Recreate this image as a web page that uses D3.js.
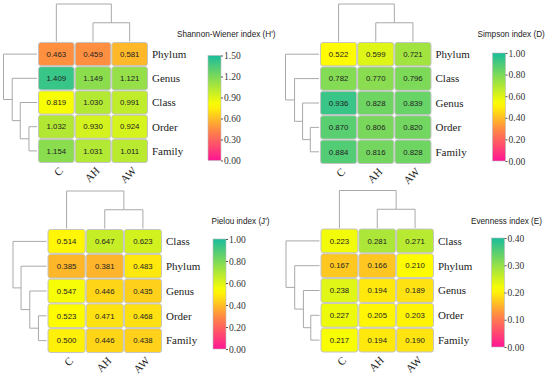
<!DOCTYPE html>
<html>
<head>
<meta charset="utf-8">
<script src="https://cdn.jsdelivr.net/npm/d3@7"></script>
<style>
  body { margin: 0; background: #fff; }
</style>
</head>
<body>
<div id="chart"></div>
<script>
// sample groups (columns)
const groups = ["C", "AH", "AW"];

// Shannon-Wiener
const shannonRows = ["Phylum", "Genus", "Class", "Order", "Family"];
const shannonValues = [
  [0.463, 0.459, 0.581],
  [1.409, 1.149, 1.121],
  [0.819, 1.030, 0.991],
  [1.032, 0.930, 0.924],
  [1.154, 1.031, 1.011]
];
const shannonTicks = [0, 0.3, 0.6, 0.9, 1.2, 1.5];
const shannonRowHeights = [1, 0.74, 0.5, 0.24];
const shannonColHeights = [1, 0.5];

// Simpson
const simpsonRows = ["Phylum", "Class", "Genus", "Order", "Family"];
const simpsonValues = [
  [0.522, 0.599, 0.721],
  [0.782, 0.770, 0.796],
  [0.936, 0.828, 0.839],
  [0.870, 0.806, 0.820],
  [0.884, 0.816, 0.828]
];
const simpsonTicks = [0, 0.2, 0.4, 0.6, 0.8, 1.0];
const simpsonRowHeights = [1, 0.73, 0.49, 0.26];
const simpsonColHeights = [1, 0.5];

// Pielou
const pielouRows = ["Class", "Phylum", "Genus", "Order", "Family"];
const pielouValues = [
  [0.514, 0.647, 0.623],
  [0.385, 0.381, 0.483],
  [0.547, 0.446, 0.435],
  [0.523, 0.471, 0.468],
  [0.500, 0.446, 0.438]
];
const pielouTicks = [0, 0.2, 0.4, 0.6, 0.8, 1.0];
const pielouRowHeights = [1, 0.76, 0.5, 0.24];
const pielouColHeights = [1, 0.5];

// Evenness
const evennessRows = ["Class", "Phylum", "Genus", "Order", "Family"];
const evennessValues = [
  [0.223, 0.281, 0.271],
  [0.167, 0.166, 0.210],
  [0.238, 0.194, 0.189],
  [0.227, 0.205, 0.203],
  [0.217, 0.194, 0.190]
];
const evennessTicks = [0, 0.1, 0.2, 0.3, 0.4];
const evennessRowHeights = [1, 0.74, 0.48, 0.26];
const evennessColHeights = [1, 0.5];

const width = 550;
const height = 378;

const panels = [
  { title: "Shannon-Wiener index (H')", rows: shannonRows, values: shannonValues, ticks: shannonTicks,
    rowH: shannonRowHeights, colH: shannonColHeights,
    x: 38, y: 42, w: 110, h: 121, lx: 208, ltop: 55.5, lbot: 160.5, tx: 177 },
  { title: "Simpson index (D)", rows: simpsonRows, values: simpsonValues, ticks: simpsonTicks,
    rowH: simpsonRowHeights, colH: simpsonColHeights,
    x: 320, y: 42, w: 111.5, h: 122, lx: 492.5, ltop: 53, lbot: 161, tx: 477.5 },
  { title: "Pielou index (J')", rows: pielouRows, values: pielouValues, ticks: pielouTicks,
    rowH: pielouRowHeights, colH: pielouColHeights,
    x: 47.5, y: 229, w: 114.5, h: 124, lx: 213, ltop: 239, lbot: 349, tx: 211.5 },
  { title: "Evenness index (E)", rows: evennessRows, values: evennessValues, ticks: evennessTicks,
    rowH: evennessRowHeights, colH: evennessColHeights,
    x: 320.5, y: 228.5, w: 113.5, h: 124, lx: 491.5, ltop: 238, lbot: 347, tx: 471 }
];

const svg = d3.select("#chart").append("svg")
  .attr("width", width)
  .attr("height", height)
  .style("display", "block")
  .style("background", "#fff");

const defs = svg.append("defs");
const lineColor = "#a9a9a9";

// tree shape shared by all panels: (r0, (r1, (r2, (r3, r4))))
function rowTree(hs) {
  return { h: hs[0], c: [0, { h: hs[1], c: [1, { h: hs[2], c: [2, { h: hs[3], c: [3, 4] }] }] }] };
}
function colTree(hs) {
  return { h: hs[0], c: [0, { h: hs[1], c: [1, 2] }] };
}

panels.forEach((p, pi) => {
  const maxV = p.ticks[p.ticks.length - 1];
  const color = d3.scaleLinear()
    .domain([0, 0.3 * maxV, 0.53 * maxV, maxV])
    .range(["#ff1493", "#ff8c42", "#ffff00", "#1abc9c"])
    .clamp(true);

  const xBand = d3.scaleBand().domain(groups).range([p.x, p.x + p.w]);
  const yBand = d3.scaleBand().domain(p.rows).range([p.y, p.y + p.h]);

  const g = svg.append("g");

  // cells
  p.rows.forEach((r, i) => {
    groups.forEach((c, j) => {
      const v = p.values[i][j];
      g.append("rect")
        .attr("x", xBand(c) + 0.5)
        .attr("y", yBand(r) + 0.5)
        .attr("width", xBand.bandwidth() - 1)
        .attr("height", yBand.bandwidth() - 1)
        .attr("rx", 2.5)
        .attr("fill", color(v))
        .attr("stroke", "#c4c4c4")
        .attr("stroke-width", 1);
      g.append("text")
        .attr("x", xBand(c) + xBand.bandwidth() / 2)
        .attr("y", yBand(r) + yBand.bandwidth() / 2)
        .attr("dy", "0.35em")
        .attr("text-anchor", "middle")
        .attr("font-family", "Liberation Sans, Arial, sans-serif")
        .attr("font-size", 7.8)
        .attr("fill", "#222")
        .text(d3.format(".3f")(v));
    });
  });

  // row labels
  g.selectAll("text.rowlab").data(p.rows).enter().append("text")
    .attr("class", "rowlab")
    .attr("x", p.x + p.w + 4)
    .attr("y", (d) => yBand(d) + yBand.bandwidth() / 2)
    .attr("dy", "0.35em")
    .attr("font-family", "Liberation Serif, Times New Roman, serif")
    .attr("font-size", 11)
    .attr("fill", "#222")
    .text((d) => d);

  // column labels, 45 degrees
  g.selectAll("text.collab").data(groups).enter().append("text")
    .attr("class", "collab")
    .attr("transform", (d) => `translate(${xBand(d) + xBand.bandwidth() / 2 + 2},${p.y + p.h + 3}) rotate(-45)`)
    .attr("text-anchor", "end")
    .attr("dy", "0.7em")
    .attr("font-family", "Liberation Serif, Times New Roman, serif")
    .attr("font-size", 11)
    .attr("fill", "#222")
    .text((d) => d);

  // row dendrogram
  const hx = d3.scaleLinear().domain([0, 1]).range([p.x - 1, p.x - 34.5]);
  function drawRow(node) {
    if (typeof node === "number") {
      const r = p.rows[node];
      return { x: hx(0), y: yBand(r) + yBand.bandwidth() / 2 };
    }
    const a = drawRow(node.c[0]);
    const b = drawRow(node.c[1]);
    const px = hx(node.h);
    g.append("path")
      .attr("d", `M${a.x},${a.y}H${px}V${b.y}H${b.x}`)
      .attr("fill", "none")
      .attr("stroke", lineColor)
      .attr("stroke-width", 1);
    return { x: px, y: (a.y + b.y) / 2 };
  }
  drawRow(rowTree(p.rowH));

  // column dendrogram
  const hy = d3.scaleLinear().domain([0, 1]).range([p.y - 0.5, p.y - 38]);
  function drawCol(node) {
    if (typeof node === "number") {
      const c = groups[node];
      return { x: xBand(c) + xBand.bandwidth() / 2, y: hy(0) };
    }
    const a = drawCol(node.c[0]);
    const b = drawCol(node.c[1]);
    const py = hy(node.h);
    g.append("path")
      .attr("d", `M${a.x},${a.y}V${py}H${b.x}V${b.y}`)
      .attr("fill", "none")
      .attr("stroke", lineColor)
      .attr("stroke-width", 1);
    return { x: (a.x + b.x) / 2, y: py };
  }
  drawCol(colTree(p.colH));

  // legend
  const gradId = "grad" + pi;
  const grad = defs.append("linearGradient")
    .attr("id", gradId)
    .attr("x1", 0).attr("y1", 1).attr("x2", 0).attr("y2", 0);
  d3.range(0, 1.0001, 0.05).forEach((t) => {
    grad.append("stop").attr("offset", t).attr("stop-color", color(t * maxV));
  });
  const barW = 13;
  g.append("rect")
    .attr("x", p.lx)
    .attr("y", p.ltop)
    .attr("width", barW)
    .attr("height", p.lbot - p.ltop)
    .attr("fill", `url(#${gradId})`)
    .attr("stroke", "#bbb")
    .attr("stroke-width", 0.6);

  const ly = d3.scaleLinear().domain([0, maxV]).range([p.lbot, p.ltop]);
  const axis = d3.axisRight(ly)
    .tickValues(p.ticks)
    .tickFormat(d3.format(".2f"))
    .tickSize(2)
    .tickPadding(1);
  const ag = g.append("g")
    .attr("transform", `translate(${p.lx + barW},0)`)
    .call(axis);
  ag.attr("font-family", "Liberation Serif, Times New Roman, serif");
  ag.select(".domain").remove();
  ag.selectAll("line").attr("stroke", "#555");
  ag.selectAll("text")
    .attr("font-family", "Liberation Serif, Times New Roman, serif")
    .attr("font-size", 9.5)
    .attr("fill", "#333");

  g.append("text")
    .attr("x", p.tx)
    .attr("y", p.y - 5)
    .attr("font-family", "Liberation Sans, Arial, sans-serif")
    .attr("font-size", 8.2)
    .attr("fill", "#222")
    .text(p.title);
});
</script>
</body>
</html>
